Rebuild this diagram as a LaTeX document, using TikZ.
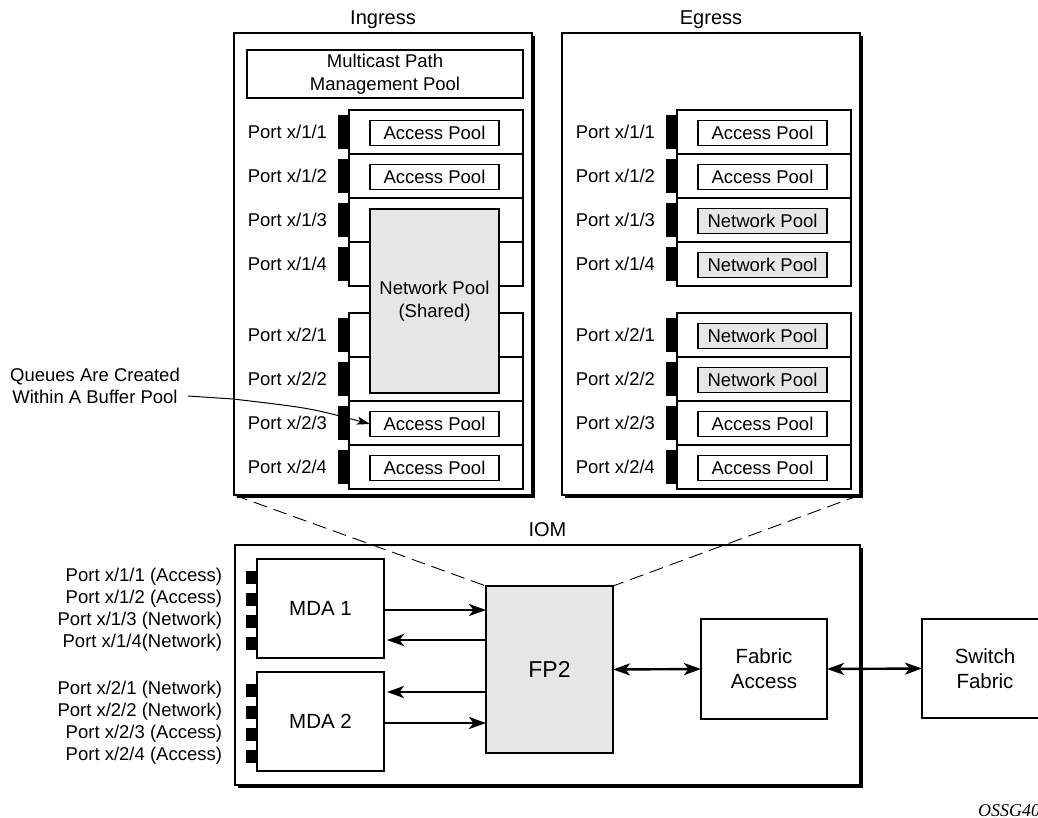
\documentclass[tikz,border=0pt]{standalone}
\usepackage{fontspec}
\setmainfont{Liberation Sans}
\newfontfamily\serifit{Liberation Serif}
\usetikzlibrary{arrows.meta,shadows,calc}
\definecolor{poolgray}{HTML}{E6E6E6}
\newcommand{\fsz}[2]{\fontsize{#1}{#2}\selectfont}
\newcommand{\portname}[1]{\ifcase#1\or x/1/1\or x/1/2\or x/1/3\or x/1/4\or x/2/1\or x/2/2\or x/2/3\or x/2/4\fi}
\begin{document}
\begin{tikzpicture}[x=1pt,y=-1pt,
  every node/.style={font=\fsz{18.5}{23}, inner sep=0pt, outer sep=0pt},
  shbox/.style={draw, line width=1.1pt, fill=white, general shadow={fill=black, shadow xshift=3pt, shadow yshift=-3pt}},
  plainbox/.style={draw, line width=1.1pt, fill=white, align=center},
  rowbox/.style={draw, line width=1.1pt, fill=white, minimum width=174pt, minimum height=44pt},
  pool/.style={draw, line width=1.1pt, fill=white, minimum width=129pt, minimum height=25pt},
  netpool/.style={pool, fill=poolgray},
  bar/.style={fill=black, minimum width=12pt, minimum height=34pt},
  smallbar/.style={fill=black, minimum width=11pt, minimum height=13pt},
  plabel/.style={anchor=east},
  title/.style={font=\fsz{20}{24}},
  arr/.style={line width=2.4pt, -{Stealth[length=17pt,width=12pt,inset=4.5pt]}},
  darr/.style={line width=2.4pt, {Stealth[length=17pt,width=12pt,inset=4.5pt]}-{Stealth[length=17pt,width=12pt,inset=4.5pt]}},
  leader/.style={line width=1pt, -{Stealth[length=13pt,width=8pt,inset=3pt]}},
  dashline/.style={line width=0.9pt, dash pattern=on 14pt off 7pt}
]
\useasboundingbox (0,0) rectangle (1038,817);

% outer boxes
\node[shbox, minimum width=298pt, minimum height=462pt] (ing) at (383,264) {};
\node[shbox, minimum width=298pt, minimum height=462pt] (egr) at (711,264) {};
\node[title] (tIng) at (383,20) {Ingress};
\node[title] (tEgr) at (711,20) {Egress};

% multicast
\node[plainbox, minimum width=276pt, minimum height=48pt] (mc) at (385,74) {Multicast Path\\Management Pool};

% rows
\foreach \t [count=\i] in {110,154,198,242,313,357,401,445} {
  \node[rowbox] (ir\i) at (436,\t+22) {};
  \node[bar] (ib\i) at (344,\t+22) {};
  \node[plabel] (il\i) at (327,\t+22) {Port \portname{\i}};
  \node[rowbox] (er\i) at (764,\t+22) {};
  \node[bar] (eb\i) at (671.5,\t+22) {};
  \node[plabel] (el\i) at (655,\t+22) {Port \portname{\i}};
}

% ingress pools
\node[pool] (ip1) at (434.5,133) {Access Pool};
\node[pool] (ip2) at (434.5,177) {Access Pool};
\node[pool] (ip7) at (434.5,424) {Access Pool};
\node[pool] (ip8) at (434.5,468) {Access Pool};
\node[netpool, minimum height=184pt, align=center] (inet) at (434.5,301) {Network Pool\\(Shared)};

% egress pools
\node[pool] (ep1) at (762.5,133) {Access Pool};
\node[pool] (ep2) at (762.5,177) {Access Pool};
\node[netpool] (ep3) at (762.5,221) {Network Pool};
\node[netpool] (ep4) at (762.5,265) {Network Pool};
\node[netpool] (ep5) at (762.5,336) {Network Pool};
\node[netpool] (ep6) at (762.5,380) {Network Pool};
\node[pool] (ep7) at (762.5,424) {Access Pool};
\node[pool] (ep8) at (762.5,468) {Access Pool};

% annotation
\node[align=center, font=\fsz{18.5}{22}] (note) at (95,386) {Queues Are Created\\Within A Buffer Pool};
\coordinate (qa) at (188,396);
\coordinate (qb) at (233,399);
\draw[leader] (qa) -- (qb) .. controls (310,408) .. (ip7.west);

% IOM
\node[shbox, minimum width=625pt, minimum height=240pt] (iom) at (547.5,665) {};
\node[title] (tIom) at (547.5,530) {IOM};

\node[plainbox, minimum width=127pt, minimum height=99pt, font=\fsz{20.5}{24}] (mda1) at (320.5,608.5) {MDA 1};
\node[plainbox, minimum width=127pt, minimum height=99pt, font=\fsz{20.5}{24}] (mda2) at (320.5,721.5) {MDA 2};

\foreach \y/\lab [count=\i] in {577/{Port x/1/1 (Access)},599/{Port x/1/2 (Access)},621/{Port x/1/3 (Network)},643/{Port x/1/4(Network)},690/{Port x/2/1 (Network)},712/{Port x/2/2 (Network)},734/{Port x/2/3 (Access)},756/{Port x/2/4 (Access)}} {
  \node[smallbar] (mb\i) at (251.5,\y) {};
  \node[plabel] (ml\i) at (222,\y) {\lab};
}

\node[plainbox, fill=poolgray, minimum width=127pt, minimum height=167pt, font=\fsz{23}{26}] (fp2) at (549.5,669.5) {FP2};
\node[plainbox, minimum width=126pt, minimum height=100pt, font=\fsz{20.5}{25}] (fa) at (764,669) {Fabric\\Access};
\node[plainbox, minimum width=126pt, minimum height=99pt, font=\fsz{20.5}{25}] (sf) at (985,668.5) {Switch\\Fabric};

\coordinate (ya) at (0,610);
\coordinate (yb) at (0,640);
\coordinate (yc) at (0,692);
\coordinate (yd) at (0,723);
\draw[arr] (mda1.east |- ya) -- (fp2.west |- ya);
\draw[arr, shorten >=3pt] (fp2.west |- yb) -- (mda1.east |- yb);
\draw[arr, shorten >=3pt] (fp2.west |- yc) -- (mda2.east |- yc);
\draw[arr] (mda2.east |- yd) -- (fp2.west |- yd);
\draw[darr] (fp2.east) -- (fa.west);
\draw[darr] (fa.east) -- (sf.west);

% dashed zoom lines
\draw[dashline] (ing.south west) -- (fp2.north west);
\draw[dashline] (egr.south east) -- (fp2.north east);

\node[anchor=base west, font=\serifit\itshape\fsz{18}{20}] (id) at (978,816) {OSSG40};
\end{tikzpicture}
\end{document}
